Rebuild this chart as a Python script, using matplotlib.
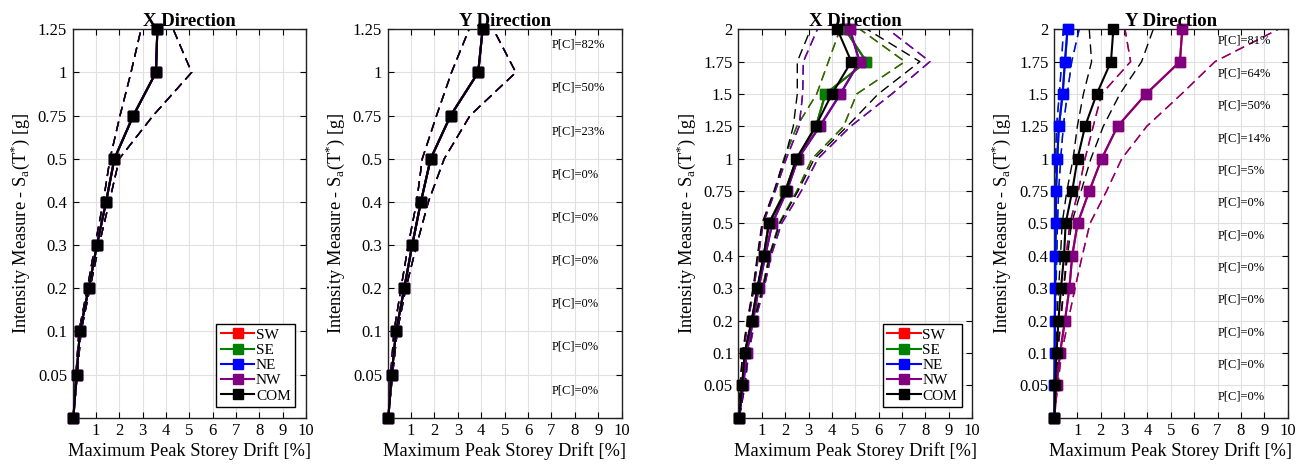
import matplotlib
matplotlib.use('Agg')
import matplotlib.pyplot as plt

plt.rcParams['font.family'] = ['Liberation Serif', 'DejaVu Serif']
plt.rcParams['mathtext.fontset'] = 'custom'
plt.rcParams['mathtext.rm'] = 'Liberation Serif'

# intensity levels (Sa in g), plotted at equal spacing
levels_a = [0, 0.05, 0.1, 0.2, 0.3, 0.4, 0.5, 0.75, 1, 1.25]
levels_b = [0, 0.05, 0.1, 0.2, 0.3, 0.4, 0.5, 0.75, 1, 1.25, 1.5, 1.75, 2]

# panel 1: X direction, all corners coincide with COM
x1_med = [0.03, 0.17, 0.31, 0.69, 1.04, 1.43, 1.79, 2.60, 3.57, 3.63]
x1_lo = [0.03, 0.14, 0.27, 0.63, 0.96, 1.31, 1.60, 2.03, 2.50, 2.93]
x1_hi = [0.03, 0.20, 0.36, 0.74, 1.13, 1.57, 2.00, 3.45, 5.10, 4.31]

# panel 2: Y direction, all corners coincide with COM
y1_med = [0.03, 0.17, 0.36, 0.71, 1.05, 1.42, 1.84, 2.69, 3.87, 4.06]
y1_lo = [0.03, 0.13, 0.27, 0.57, 0.88, 1.24, 1.48, 2.09, 2.73, 3.48]
y1_hi = [0.03, 0.21, 0.41, 0.78, 1.24, 1.74, 2.42, 3.52, 5.48, 4.52]
pc_y1 = [0, 0, 0, 0, 0, 0, 23, 50, 82]

# panel 3: X direction (SW = SE, NE = NW)
se3_med = [0.03, 0.17, 0.28, 0.58, 0.82, 1.09, 1.30, 2.00, 2.50, 3.32, 3.72, 5.47, 4.56]
se3_lo = [0.02, 0.08, 0.19, 0.40, 0.65, 0.83, 1.03, 1.55, 1.95, 2.50, 3.35, 3.85, 4.35]
se3_hi = [0.04, 0.25, 0.39, 0.66, 1.03, 1.32, 1.74, 2.50, 3.15, 4.50, 5.06, 7.12, 5.20]
nw3_med = [0.03, 0.21, 0.36, 0.63, 0.87, 1.15, 1.45, 2.07, 2.55, 3.48, 4.36, 5.18, 4.77]
nw3_lo = [0.02, 0.10, 0.22, 0.42, 0.67, 0.86, 1.06, 1.58, 2.05, 2.60, 2.75, 2.78, 3.38]
nw3_hi = [0.04, 0.29, 0.44, 0.72, 1.10, 1.40, 1.85, 2.69, 3.40, 4.80, 6.56, 8.19, 6.40]
com3_med = [0.03, 0.16, 0.27, 0.57, 0.81, 1.08, 1.31, 2.02, 2.48, 3.30, 4.00, 4.83, 4.23]
com3_lo = [0.02, 0.07, 0.18, 0.38, 0.63, 0.81, 1.01, 1.52, 1.98, 2.35, 2.52, 2.52, 3.09]
com3_hi = [0.04, 0.26, 0.40, 0.67, 1.05, 1.34, 1.77, 2.55, 3.25, 4.65, 5.98, 7.76, 5.50]

# panel 4: Y direction (SE = NE, SW = NW)
ne4_med = [0.02, 0.02, 0.03, 0.04, 0.05, 0.06, 0.08, 0.09, 0.14, 0.21, 0.37, 0.47, 0.58]
ne4_lo = [0.01, 0.01, 0.02, 0.02, 0.03, 0.03, 0.04, 0.05, 0.07, 0.11, 0.23, 0.33, 0.40]
ne4_hi = [0.02, 0.03, 0.05, 0.07, 0.09, 0.12, 0.15, 0.20, 0.29, 0.40, 0.57, 0.76, 1.08]
nw4_med = [0.02, 0.11, 0.26, 0.47, 0.66, 0.78, 1.01, 1.51, 2.04, 2.72, 3.94, 5.39, 5.49]
nw4_lo = [0.01, 0.06, 0.16, 0.30, 0.42, 0.52, 0.68, 1.04, 1.33, 1.68, 2.04, 3.28, 3.04]
nw4_hi = [0.02, 0.16, 0.33, 0.61, 0.90, 1.21, 1.54, 2.25, 2.90, 3.97, 5.46, 6.89, 9.60]
com4_med = [0.02, 0.06, 0.11, 0.19, 0.30, 0.43, 0.50, 0.78, 1.01, 1.33, 1.83, 2.44, 2.54]
com4_lo = [0.01, 0.03, 0.07, 0.12, 0.20, 0.28, 0.35, 0.55, 0.82, 1.00, 1.26, 1.61, 1.51]
com4_hi = [0.02, 0.10, 0.16, 0.27, 0.42, 0.58, 0.75, 1.16, 1.58, 2.11, 2.82, 3.75, 4.25]
pc_y2 = [0, 0, 0, 0, 0, 0, 0, 5, 14, 50, 64, 81]

names = ['SW', 'SE', 'NE', 'NW', 'COM']
colors = ['#ff0000', '#008000', '#0000ff', '#800080', '#000000']
xticks = [1, 2, 3, 4, 5, 6, 7, 8, 9, 10]

DASH = (0, (7, 4))


def draw_panel(ax, levels, curves, title, pc=None, legend=False):
    """One drift panel: median with markers, dashed 16/84 bands."""
    y = list(range(len(levels)))
    for name, color, (med, lo, hi) in zip(names, colors, curves):
        ax.plot(lo, y, linestyle=DASH, color=color, lw=1.0)
        ax.plot(hi, y, linestyle=DASH, color=color, lw=1.0)
        ax.plot(med, y, '-s', color=color, lw=1.5, ms=7.5, label=name,
                clip_on=False, zorder=3)
    ax.set_xlim(0, 10)
    ax.set_ylim(0, len(levels) - 1)
    ax.set_xticks(xticks)
    ax.set_yticks(y)
    ax.set_yticklabels(['' if v == 0 else f'{v:g}' for v in levels])
    ax.grid(True, color='#e0e0e0', lw=0.8)
    ax.set_axisbelow(True)
    ax.tick_params(direction='in', length=4, top=True, right=True,
                   labelsize=12, pad=4)
    for s in ax.spines.values():
        s.set_linewidth(1.0)
        s.set_color('#222222')
    ax.set_title(title, fontsize=13.5, fontweight='bold', pad=2)
    ax.set_xlabel('Maximum Peak Storey Drift [%]', fontsize=13.2, labelpad=2)
    ax.set_ylabel(r'Intensity Measure - S$_\mathregular{a}$(T$^\mathregular{*}$) [g]',
                  fontsize=13.2, labelpad=4)
    if pc is not None:
        for i, p in enumerate(pc):
            ax.text(7, i + 0.64, f'P[C]={p}%', fontsize=9, va='center', ha='left')
    if legend:
        leg = ax.legend(loc='lower right', bbox_to_anchor=(1 - 10.7 / 234, 10.4 / 388),
                        borderaxespad=0, fontsize=11, fancybox=False,
                        edgecolor='black', framealpha=1, handlelength=2.2,
                        handletextpad=0.1, labelspacing=0.1, borderpad=0.3)
        leg.get_frame().set_linewidth(1.0)


fig = plt.figure(figsize=(13.07, 4.68), dpi=100)
ax1 = fig.add_axes([0.0556, 0.1075, 0.1785, 0.83])
ax2 = fig.add_axes([0.2966, 0.1075, 0.1790, 0.83])
ax3 = fig.add_axes([0.5649, 0.1075, 0.1790, 0.83])
ax4 = fig.add_axes([0.8064, 0.1075, 0.1788, 0.83])

p1 = (x1_med, x1_lo, x1_hi)
draw_panel(ax1, levels_a, [p1] * 5, 'X Direction', legend=True)

p2 = (y1_med, y1_lo, y1_hi)
draw_panel(ax2, levels_a, [p2] * 5, 'Y Direction', pc=pc_y1)

se3 = (se3_med, se3_lo, se3_hi)
nw3 = (nw3_med, nw3_lo, nw3_hi)
com3 = (com3_med, com3_lo, com3_hi)
draw_panel(ax3, levels_b, [se3, se3, nw3, nw3, com3], 'X Direction', legend=True)

ne4 = (ne4_med, ne4_lo, ne4_hi)
nw4 = (nw4_med, nw4_lo, nw4_hi)
com4 = (com4_med, com4_lo, com4_hi)
draw_panel(ax4, levels_b, [nw4, ne4, ne4, nw4, com4], 'Y Direction', pc=pc_y2)

fig.savefig('out.png', dpi=100, facecolor='white')
